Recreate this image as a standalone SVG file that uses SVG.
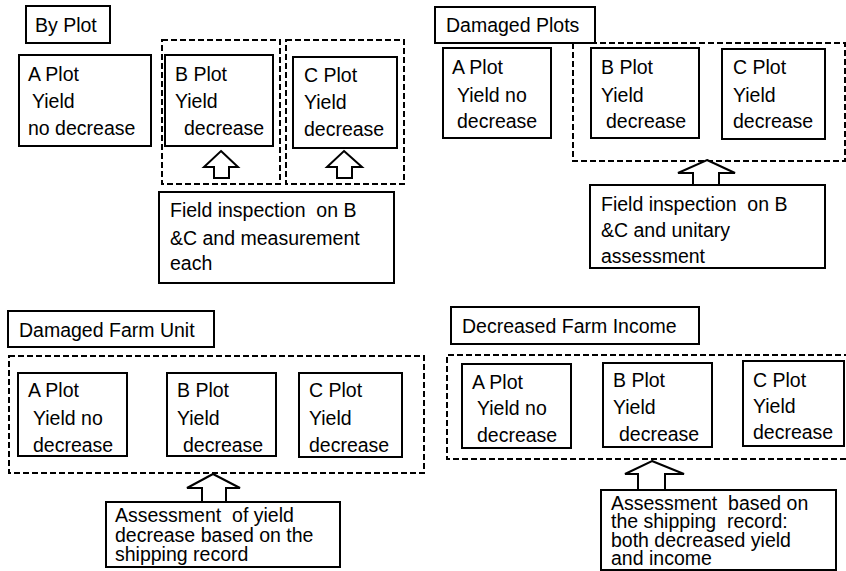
<svg xmlns="http://www.w3.org/2000/svg" width="846" height="571" viewBox="0 0 846 571">
<style>
  .box { fill: #fff; stroke: #000; stroke-width: 2; }
  .dash { fill: none; stroke: #000; stroke-width: 2; stroke-dasharray: 6 3; }
  .arrow { fill: #fff; stroke: #000; stroke-width: 2; stroke-linejoin: miter; }
  text { font-family: "Liberation Sans", Arial, sans-serif; font-size: 19.5px; fill: #000; }
</style>
<rect width="846" height="571" fill="#fff"/>

<!-- Panel 1: By Plot -->
<g id="p1-title"><rect class="box" x="26" y="6" width="84" height="37"/><text x="35" y="32">By Plot</text></g>
<g id="p1-group-b"><rect class="dash" x="162" y="40" width="118" height="144"/></g>
<g id="p1-group-c"><rect class="dash" x="286" y="40" width="118" height="144"/></g>
<g id="p1-a"><rect class="box" x="19" y="55" width="132" height="91"/>
  <text x="28" y="81">A Plot</text><text x="32" y="108">Yield</text><text x="28" y="135">no decrease</text></g>
<g id="p1-b"><rect class="box" x="165" y="55" width="108" height="91"/>
  <text x="175" y="81">B Plot</text><text x="175" y="108">Yield</text><text x="184" y="135">decrease</text></g>
<g id="p1-c"><rect class="box" x="293" y="57" width="104" height="91"/>
  <text x="304" y="82">C Plot</text><text x="304" y="109">Yield</text><text x="304" y="136">decrease</text></g>
<g id="p1-note"><rect class="box" x="159" y="192" width="235" height="91"/>
  <text x="170" y="217" xml:space="preserve">Field inspection  on B</text><text x="170" y="245">&amp;C and measurement</text><text x="170" y="270">each</text></g>

<!-- Panel 2: Damaged Plots -->
<g id="p2-title"><rect class="box" x="435" y="7" width="160" height="36"/><text x="446" y="32">Damaged Plots</text></g>
<g id="p2-group"><rect class="dash" x="573" y="43" width="272" height="118"/></g>
<g id="p2-a"><rect class="box" x="443" y="48" width="108" height="90"/>
  <text x="452" y="74">A Plot</text><text x="457" y="102">Yield no</text><text x="457" y="128">decrease</text></g>
<g id="p2-b"><rect class="box" x="591" y="48" width="108" height="90"/>
  <text x="601" y="74">B Plot</text><text x="601" y="102">Yield</text><text x="606" y="128">decrease</text></g>
<g id="p2-c"><rect class="box" x="722" y="49" width="103" height="90"/>
  <text x="733" y="74">C Plot</text><text x="733" y="102">Yield</text><text x="733" y="128">decrease</text></g>
<g id="p2-note"><rect class="box" x="590" y="185" width="235" height="83"/>
  <text x="601" y="211" xml:space="preserve">Field inspection  on B</text><text x="601" y="237">&amp;C and unitary</text><text x="601" y="263">assessment</text></g>

<!-- Panel 3: Damaged Farm Unit -->
<g id="p3-title"><rect class="box" x="8" y="311" width="206" height="36"/><text x="19" y="337">Damaged Farm Unit</text></g>
<g id="p3-group"><rect class="dash" x="9" y="356" width="415" height="117"/></g>
<g id="p3-a"><rect class="box" x="18" y="373" width="109" height="83"/>
  <text x="28" y="397">A Plot</text><text x="33" y="425">Yield no</text><text x="33" y="452">decrease</text></g>
<g id="p3-b"><rect class="box" x="167" y="373" width="109" height="83"/>
  <text x="177" y="397">B Plot</text><text x="177" y="425">Yield</text><text x="183" y="452">decrease</text></g>
<g id="p3-c"><rect class="box" x="299" y="373" width="103" height="84"/>
  <text x="309" y="397">C Plot</text><text x="309" y="425">Yield</text><text x="309" y="452">decrease</text></g>
<g id="p3-note"><rect class="box" x="106" y="502" width="234" height="65"/>
  <text x="115" y="522" xml:space="preserve">Assessment  of yield</text><text x="115" y="542">decrease based on the</text><text x="115" y="561">shipping record</text></g>

<!-- Panel 4: Decreased Farm Income -->
<g id="p4-title"><rect class="box" x="451" y="307" width="248" height="37"/><text x="462" y="333">Decreased Farm Income</text></g>
<g id="p4-group"><path class="dash" d="M850,355 H447 V459 H850"/></g>
<g id="p4-a"><rect class="box" x="462" y="364" width="109" height="84"/>
  <text x="472" y="389">A Plot</text><text x="477" y="415">Yield no</text><text x="477" y="442">decrease</text></g>
<g id="p4-b"><rect class="box" x="603" y="363" width="109" height="84"/>
  <text x="613" y="387">B Plot</text><text x="613" y="414">Yield</text><text x="619" y="441">decrease</text></g>
<g id="p4-c"><rect class="box" x="743" y="361" width="101" height="85"/>
  <text x="753" y="387">C Plot</text><text x="753" y="413">Yield</text><text x="753" y="439">decrease</text></g>
<g id="p4-note"><rect class="box" x="601" y="490" width="235" height="80"/>
  <text x="611" y="510" xml:space="preserve">Assessment  based on</text><text x="611" y="528" xml:space="preserve">the shipping  record:</text><text x="611" y="547">both decreased yield</text><text x="611" y="565">and income</text></g>

<!-- Connectors: block arrows -->
<g id="connectors">
  <polygon class="arrow" points="221,151 238,167 229,167 229,178 214,178 214,167 204,167"/>
  <polygon class="arrow" points="344,151 362,167 352,167 352,178 337,178 337,167 327,167"/>
  <polygon class="arrow" points="707,160 735,173 719,173 719,185 693,185 693,173 678,173"/>
  <polygon class="arrow" points="213,474 240,488 226,488 226,502 202,502 202,488 187,488"/>
  <polygon class="arrow" points="652,461 684,474 665,474 665,490 638,490 638,474 625,474"/>
</g>
</svg>
